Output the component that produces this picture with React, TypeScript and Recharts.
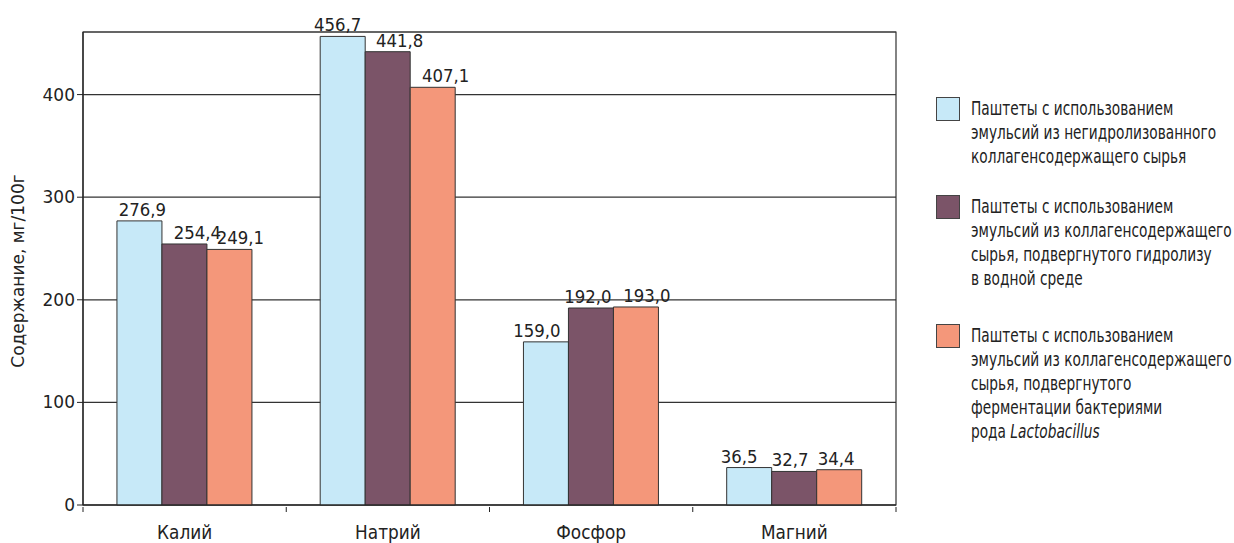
import React from 'react';
import { BarChart, Bar, XAxis, YAxis, CartesianGrid, LabelList, ReferenceArea } from 'recharts';

const categories = ['Калий', 'Натрий', 'Фосфор', 'Магний'];
const nonHydrolyzed = [276.9, 456.7, 159.0, 36.5];
const waterHydrolyzed = [254.4, 441.8, 192.0, 32.7];
const fermented = [249.1, 407.1, 193.0, 34.4];
const yTicks = [0, 100, 200, 300, 400];
const yTitle = 'Содержание, мг/100г';

const FONT = '"DejaVu Sans", sans-serif';

const series = [
  { key: 'a', color: '#c7e9f8', lines: ['Паштеты с использованием', 'эмульсий из негидролизованного', 'коллагенсодержащего сырья'] },
  { key: 'b', color: '#7b5468', lines: ['Паштеты с использованием', 'эмульсий из коллагенсодержащего', 'сырья, подвергнутого гидролизу', 'в водной среде'] },
  { key: 'c', color: '#f4977a', lines: ['Паштеты с использованием', 'эмульсий из коллагенсодержащего', 'сырья, подвергнутого', 'ферментации бактериями', 'рода |Lactobacillus'] },
];

// horizontal nudges of the value labels (px), as placed in the original layout
const labelNudge: Record<string, number[]> = {
  a: [3, -5, -9, -10],
  b: [13, 12, -3, -4],
  c: [11, 13, 11, -3],
};

const data = categories.map((name, i) => ({
  name,
  a: nonHydrolyzed[i],
  b: waterHydrolyzed[i],
  c: fermented[i],
}));

const fmt = (v: any) => Number(v).toFixed(1).replace('.', ',');

// plot spans x 83..896 -> 4 bands
const BAND = (896 - 83) / categories.length;

const CategoryTick = (props: any) => {
  const { x, y, payload, index } = props;
  const left = x - BAND / 2;
  return (
    <g>
      <line x1={left} y1={y - 6} x2={left} y2={y - 1} stroke="#222" />
      {index === categories.length - 1 && (
        <line x1={x + BAND / 2} y1={y - 6} x2={x + BAND / 2} y2={y - 1} stroke="#222" />
      )}
      <text transform={`translate(${x},${y + 26}) scale(0.89,1)`} textAnchor="middle" fontSize={19} fill="#222" fontFamily={FONT}>
        {payload.value}
      </text>
    </g>
  );
};

const valueLabel = (key: string) => (p: any) => {
  const cx = p.x + p.width / 2 + (labelNudge[key][p.index] || 0);
  return (
    <text transform={`translate(${cx},${p.y - 5}) scale(0.92,1)`} textAnchor="middle" fontSize={18} fill="#222" fontFamily={FONT}>
      {fmt(p.value)}
    </text>
  );
};

const LegendBox = () => {
  const gaps = [27, 34, 0];
  return (
    <div style={{ position: 'absolute', left: 936, top: 97, width: 298, fontFamily: FONT, fontSize: 19, color: '#222' }}>
      {series.map((s, i) => (
        <div key={s.key} style={{ display: 'flex', alignItems: 'flex-start', marginBottom: gaps[i] }}>
          <div style={{ width: 22, height: 22, background: s.color, border: '1px solid #444', flexShrink: 0 }} />
          <div style={{ marginLeft: 11, lineHeight: '24px', marginTop: -1, transform: 'scaleX(0.722)', transformOrigin: 'left top' }}>
            {s.lines.map((l, j) => {
              const parts = l.split('|');
              return (
                <div key={j} style={{ whiteSpace: 'nowrap' }}>
                  {parts[0]}
                  {parts[1] && <i>{parts[1]}</i>}
                </div>
              );
            })}
          </div>
        </div>
      ))}
    </div>
  );
};

export default function App() {
  return (
    <div style={{ position: 'absolute', left: 0, top: 0, width: 1234, height: 543, background: '#fff', overflow: 'hidden' }}>
      <BarChart
        width={1234}
        height={543}
        data={data}
        margin={{ top: 32, right: 338, bottom: 0, left: 23 }}
        barCategoryGap="16.7%"
        barGap={0}
      >
        <CartesianGrid vertical={false} stroke="#333" strokeWidth={1.2} />
        <ReferenceArea y1={0} y2={461} fill="none" stroke="#333" strokeWidth={1.2} ifOverflow="visible" />
        <XAxis
          dataKey="name"
          axisLine={{ stroke: '#222', strokeWidth: 1.2 }}
          tickLine={false}
          tick={<CategoryTick />}
          height={38}
          interval={0}
        />
        <YAxis
          domain={[0, 461]}
          ticks={yTicks}
          width={60}
          axisLine={{ stroke: '#222', strokeWidth: 1.2 }}
          tickLine={{ stroke: '#222' }}
          tickSize={6}
          tick={{ fontSize: 17, fill: '#222', fontFamily: FONT }}
          label={{
            content: () => (
              <text transform="translate(24,271) rotate(-90)" textAnchor="middle" fontSize={17} fill="#222" fontFamily={FONT}>
                {yTitle}
              </text>
            ),
          }}
        />
        {series.map((s) => (
          <Bar key={s.key} dataKey={s.key} fill={s.color} stroke="#333" strokeWidth={1} isAnimationActive={false}>
            <LabelList dataKey={s.key} content={valueLabel(s.key)} />
          </Bar>
        ))}
      </BarChart>
      <LegendBox />
    </div>
  );
}
